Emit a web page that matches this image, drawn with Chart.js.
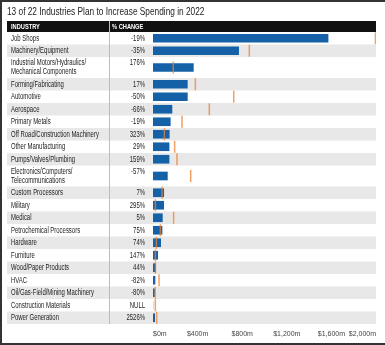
<!DOCTYPE html>
<html>
<head>
<meta charset="utf-8">
<script src="https://cdn.jsdelivr.net/npm/chart.js@4.4.0/dist/chart.umd.min.js"></script>
<style>
  html, body { margin: 0; padding: 0; background: #fff; }
  canvas { display: block; }
</style>
</head>
<body>
<canvas id="chart" width="385" height="345"></canvas>
<script>
// table rows, top to bottom
const industries = [
  "Job Shops",
  "Machinery/Equipment",
  "Industrial Motors/Hydraulics/\nMechanical Components",
  "Forming/Fabricating",
  "Automotive",
  "Aerospace",
  "Primary Metals",
  "Off Road/Construction Machinery",
  "Other Manufacturing",
  "Pumps/Valves/Plumbing",
  "Electronics/Computers/\nTelecommunications",
  "Custom Processors",
  "Military",
  "Medical",
  "Petrochemical Processors",
  "Hardware",
  "Furniture",
  "Wood/Paper Products",
  "HVAC",
  "Oil/Gas-Field/Mining Machinery",
  "Construction Materials",
  "Power Generation"
];
const pctChange = ["-19%", "-35%", "176%", "17%", "-50%", "-66%", "-19%", "323%", "29%", "159%",
  "-57%", "7%", "295%", "5%", "75%", "74%", "147%", "44%", "-82%", "-80%", "NULL", "2526%"];

// spending, $ millions (bars = 2022 plan, ticks = prior year)
const spend2022 = [1570, 768, 362, 308, 308, 170, 155, 146, 144, 144,
  129, 96, 96, 84, 81, 69, 42, 24, 18, 13, 6, 15];
const spend2021 = [1995, 864, 182, 380, 724, 505, 260, 102, 194, 215,
  338, 81, 21, 185, 66, 30, 21, 22, 54, 20, 21, 33];

const xTicks = [0, 400, 800, 1200, 1600, 2000];

const title = "13 of 22 Industries Plan to Increase Spending in 2022";

// two-line labels get a taller row
const rowUnits = industries.map(s => s.includes("\n") ? 1.68 : 1);
const rowTop = [];
let acc = 0;
rowUnits.forEach(u => { rowTop.push(acc); acc += u; });
const totalUnits = acc;
const rowMid = rowTop.map((t, i) => t + rowUnits[i] / 2);

const FONT = '"Liberation Sans", Arial, sans-serif';

// no condensed face installed, so squeeze the regular one
function squeezed(ctx, text, x, y, align, k) {
  ctx.save();
  ctx.translate(x, y);
  ctx.scale(k || 0.79, 1);
  ctx.textAlign = align || "left";
  ctx.fillText(text, 0, 0);
  ctx.restore();
}

const tableLeft = 7;
const divider = 109.5;
const ROW_K = 0.7;

const tablePlugin = {
  id: "table",
  beforeDatasetsDraw(chart) {
    const { ctx, chartArea, scales } = chart;
    const y = scales.y;
    const right = chartArea.right;
    ctx.save();

    // title
    ctx.fillStyle = "#222";
    ctx.font = "10.5px " + FONT;
    ctx.textBaseline = "middle";
    squeezed(ctx, title, 7, 12);

    // header bar
    ctx.fillStyle = "#111";
    ctx.fillRect(tableLeft, 21, right - tableLeft, chartArea.top - 21);
    ctx.fillStyle = "#fff";
    ctx.font = "bold 7.5px " + FONT;
    squeezed(ctx, "INDUSTRY", 11, 26.5, "left", 0.76);
    squeezed(ctx, "% CHANGE", 112, 26.5, "left", 0.76);

    // rows
    industries.forEach((name, i) => {
      const y0 = y.getPixelForValue(rowTop[i]);
      const y1 = y.getPixelForValue(rowTop[i] + rowUnits[i]);
      if (i % 2 === 1) {
        ctx.fillStyle = "#e8e8e8";
        ctx.fillRect(tableLeft, y0, right - tableLeft, y1 - y0);
      }
      const yc = y.getPixelForValue(rowMid[i]);
      ctx.fillStyle = "#222";
      ctx.font = "8.5px " + FONT;
      const lines = name.split("\n");
      if (lines.length === 1) {
        squeezed(ctx, name, 11, yc, "left", ROW_K);
        squeezed(ctx, pctChange[i], 145, yc, "right", ROW_K);
      } else {
        squeezed(ctx, lines[0], 11, yc - 4.5, "left", ROW_K);
        squeezed(ctx, lines[1], 11, yc + 4.5, "left", ROW_K);
        squeezed(ctx, pctChange[i], 145, yc - 4.5, "right", ROW_K);
      }
    });

    // column divider
    ctx.strokeStyle = "#bdbdbd";
    ctx.lineWidth = 1;
    ctx.beginPath();
    ctx.moveTo(divider, 21);
    ctx.lineTo(divider, chartArea.bottom);
    ctx.stroke();
    ctx.restore();
  },
  afterDraw(chart) {
    const { ctx, width, height } = chart;
    ctx.save();
    ctx.strokeStyle = "#333";
    ctx.lineWidth = 2;
    ctx.beginPath();
    ctx.moveTo(width, 1);
    ctx.lineTo(1, 1);
    ctx.lineTo(1, height - 1);
    ctx.lineTo(width, height - 1);
    ctx.stroke();
    ctx.restore();
  }
};

new Chart(document.getElementById("chart"), {
  type: "bar",
  data: {
    datasets: [
      {
        type: "scatter",
        label: "2021",
        order: 0,
        data: spend2021.map((v, i) => ({ x: v, y: rowMid[i] })),
        pointStyle: "line",
        pointRotation: 90,
        pointRadius: 6,
        pointHoverRadius: 6,
        pointBorderColor: "rgba(238, 128, 48, 0.75)",
        pointBorderWidth: 1.5
      },
      {
        type: "bar",
        label: "2022",
        order: 1,
        data: spend2022.map((v, i) => ({ x: v, y: rowMid[i] })),
        backgroundColor: pctChange.map(p => p === "NULL" ? "#cddff0" : "#1561a7"),
        borderWidth: 0,
        barThickness: 8
      }
    ]
  },
  options: {
    indexAxis: "y",
    responsive: false,
    animation: false,
    devicePixelRatio: 1,
    layout: { padding: { left: 153, right: 9, top: 32, bottom: 0 } },
    plugins: {
      legend: { display: false },
      tooltip: { enabled: false }
    },
    scales: {
      y: {
        type: "linear",
        min: 0,
        max: totalUnits,
        reverse: true,
        offset: false,
        display: false
      },
      x: {
        type: "linear",
        min: 0,
        max: 2000,
        grid: { display: false, drawTicks: false },
        border: { display: false },
        afterBuildTicks: s => { s.ticks = xTicks.map(v => ({ value: v })); },
        afterFit: s => { s.height = 21; },
        ticks: {
          align: "inner",
          padding: 6,
          color: "#444",
          font: { family: FONT, size: 7 },
          callback: v => "$" + v.toLocaleString("en-US") + "m"
        }
      }
    }
  },
  plugins: [tablePlugin]
});
</script>
</body>
</html>
